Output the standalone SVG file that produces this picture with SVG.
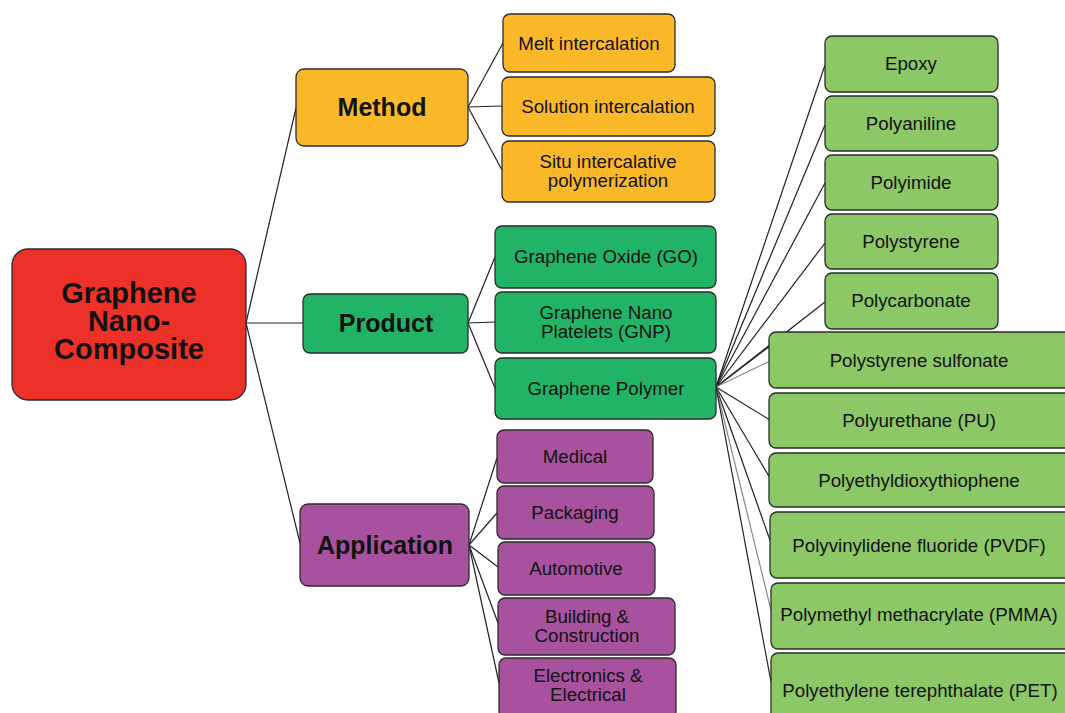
<svg xmlns="http://www.w3.org/2000/svg" width="1065" height="713" viewBox="0 0 1065 713">
<style>
  .n rect { stroke: #2b2b2b; stroke-width: 1.3; }
  .root rect { fill: #ee3128; }
  .ora rect { fill: #fbb829; }
  .dg rect { fill: #22b466; }
  .pu rect { fill: #a8519e; }
  .lg rect { fill: #8cc865; }
  text { font-family: "Liberation Sans", Arial, sans-serif; fill: #111; text-anchor: middle; }
  .t { font-size: 18.7px; }
  .b { font-size: 25px; font-weight: bold; }
  .rb { font-size: 29px; font-weight: bold; }
  #connectors line { stroke: #222; stroke-width: 1.2; }
  #connectors line.g { stroke: #888; }
</style>
<rect width="1065" height="713" fill="#ffffff"/>
<g id="connectors">
  <line x1="246" y1="323" x2="296" y2="108"/>
  <line x1="246" y1="323" x2="303" y2="323"/>
  <line x1="246" y1="323" x2="300" y2="543"/>
  <line x1="468" y1="107" x2="503" y2="43"/>
  <line x1="468" y1="107" x2="502" y2="106"/>
  <line x1="468" y1="107" x2="502" y2="170"/>
  <line x1="468" y1="323" x2="495" y2="257"/>
  <line x1="468" y1="323" x2="495" y2="322"/>
  <line x1="468" y1="323" x2="495" y2="388"/>
  <line x1="469" y1="545" x2="497" y2="458"/>
  <line x1="469" y1="545" x2="497" y2="513"/>
  <line x1="469" y1="545" x2="498" y2="567"/>
  <line x1="469" y1="545" x2="498" y2="623"/>
  <line x1="469" y1="545" x2="499" y2="683"/>
  <line x1="716" y1="387" x2="825" y2="65"/>
  <line x1="716" y1="387" x2="825" y2="125"/>
  <line x1="716" y1="387" x2="825" y2="183"/>
  <line x1="716" y1="387" x2="825" y2="243"/>
  <line x1="716" y1="387" x2="825" y2="302"/>
  <line x1="716" y1="387" x2="770" y2="346"/>
  <line class="g" x1="716" y1="387" x2="770" y2="361"/>
  <line x1="716" y1="387" x2="770" y2="420"/>
  <line x1="716" y1="387" x2="770" y2="478"/>
  <line x1="716" y1="387" x2="771" y2="543"/>
  <line class="g" x1="716" y1="387" x2="771" y2="610"/>
  <line x1="716" y1="387" x2="771" y2="682"/>
</g>

<g id="root" class="n root">
  <rect x="12" y="249" width="234" height="151" rx="16"/>
  <text class="rb" x="129" y="303"><tspan x="129">Graphene</tspan><tspan x="129" dy="28">Nano-</tspan><tspan x="129" dy="28">Composite</tspan></text>
</g>

<g id="method" class="n ora">
  <rect x="296" y="69" width="172" height="77" rx="8"/>
  <text class="b" x="382" y="116">Method</text>
</g>
<g id="product" class="n dg">
  <rect x="303" y="294" width="165" height="59" rx="7"/>
  <text class="b" x="386" y="332">Product</text>
</g>
<g id="application" class="n pu">
  <rect x="300" y="504" width="169" height="82" rx="8"/>
  <text class="b" x="385" y="554">Application</text>
</g>

<g id="melt" class="n ora">
  <rect x="503" y="14" width="172" height="58" rx="7"/>
  <text class="t" x="589" y="49.5">Melt intercalation</text>
</g>
<g id="solution" class="n ora">
  <rect x="502" y="77" width="213" height="59" rx="7"/>
  <text class="t" x="608" y="112.5">Solution intercalation</text>
</g>
<g id="situ" class="n ora">
  <rect x="502" y="141" width="213" height="61" rx="7"/>
  <text class="t" x="608" y="168"><tspan x="608">Situ intercalative</tspan><tspan x="608" dy="19">polymerization</tspan></text>
</g>

<g id="go" class="n dg">
  <rect x="495" y="226" width="221" height="62" rx="7"/>
  <text class="t" x="606" y="262.5">Graphene Oxide (GO)</text>
</g>
<g id="gnp" class="n dg">
  <rect x="495" y="292" width="221" height="61" rx="7"/>
  <text class="t" x="606" y="319"><tspan x="606">Graphene Nano</tspan><tspan x="606" dy="19">Platelets (GNP)</tspan></text>
</g>
<g id="gpolymer" class="n dg">
  <rect x="495" y="358" width="221" height="61" rx="7"/>
  <text class="t" x="606" y="394.5">Graphene Polymer</text>
</g>

<g id="medical" class="n pu">
  <rect x="497" y="430" width="156" height="53" rx="7"/>
  <text class="t" x="575" y="462.5">Medical</text>
</g>
<g id="packaging" class="n pu">
  <rect x="497" y="486" width="157" height="53" rx="7"/>
  <text class="t" x="575" y="518.5">Packaging</text>
</g>
<g id="automotive" class="n pu">
  <rect x="498" y="542" width="157" height="53" rx="7"/>
  <text class="t" x="576" y="574.5">Automotive</text>
</g>
<g id="building" class="n pu">
  <rect x="498" y="598" width="177" height="57" rx="7"/>
  <text class="t" x="587" y="623"><tspan x="587">Building &amp;</tspan><tspan x="587" dy="18.5">Construction</tspan></text>
</g>
<g id="electronics" class="n pu">
  <rect x="499" y="658" width="177" height="60" rx="7"/>
  <text class="t" x="588" y="682"><tspan x="588">Electronics &amp;</tspan><tspan x="588" dy="18.5">Electrical</tspan></text>
</g>

<g id="epoxy" class="n lg">
  <rect x="825" y="36" width="173" height="56" rx="7"/>
  <text class="t" x="911" y="69.5">Epoxy</text>
</g>
<g id="polyaniline" class="n lg">
  <rect x="825" y="96" width="173" height="55" rx="7"/>
  <text class="t" x="911" y="129.5">Polyaniline</text>
</g>
<g id="polyimide" class="n lg">
  <rect x="825" y="155" width="173" height="55" rx="7"/>
  <text class="t" x="911" y="188.5">Polyimide</text>
</g>
<g id="polystyrene" class="n lg">
  <rect x="825" y="214" width="173" height="55" rx="7"/>
  <text class="t" x="911" y="247.5">Polystyrene</text>
</g>
<g id="polycarbonate" class="n lg">
  <rect x="825" y="273" width="173" height="56" rx="7"/>
  <text class="t" x="911" y="306.5">Polycarbonate</text>
</g>
<g id="pss" class="n lg">
  <rect x="769" y="332" width="310" height="56" rx="7"/>
  <text class="t" x="919" y="366.5">Polystyrene sulfonate</text>
</g>
<g id="pu" class="n lg">
  <rect x="769" y="393" width="310" height="55" rx="7"/>
  <text class="t" x="919" y="426.5">Polyurethane (PU)</text>
</g>
<g id="pedot" class="n lg">
  <rect x="769" y="453" width="310" height="54" rx="7"/>
  <text class="t" x="919" y="486.5">Polyethyldioxythiophene</text>
</g>
<g id="pvdf" class="n lg">
  <rect x="770" y="512" width="310" height="66" rx="7"/>
  <text class="t" x="919" y="551.5">Polyvinylidene fluoride (PVDF)</text>
</g>
<g id="pmma" class="n lg">
  <rect x="771" y="583" width="310" height="66" rx="7"/>
  <text class="t" x="919" y="620.5">Polymethyl methacrylate (PMMA)</text>
</g>
<g id="pet" class="n lg">
  <rect x="771" y="653" width="310" height="70" rx="7"/>
  <text class="t" x="920" y="696.5">Polyethylene terephthalate (PET)</text>
</g>
</svg>
